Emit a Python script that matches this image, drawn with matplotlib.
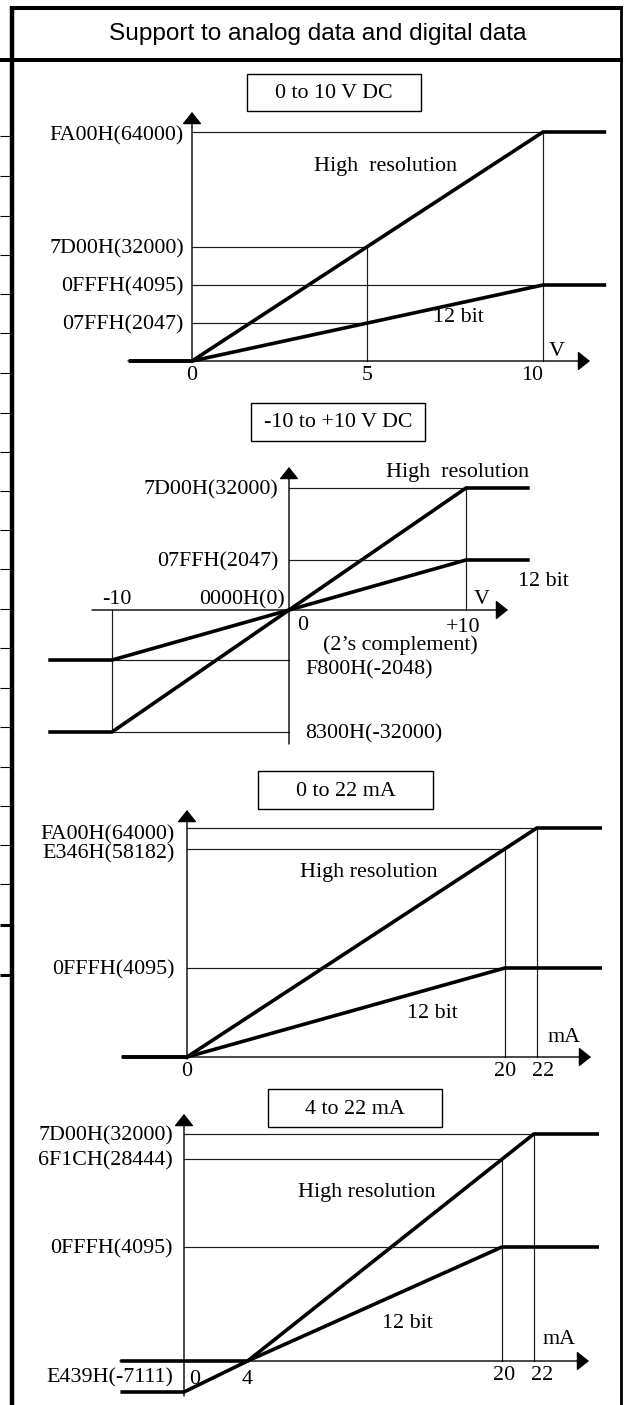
import numpy as np
import matplotlib
matplotlib.use("Agg")
import matplotlib.pyplot as plt
from matplotlib.patches import Rectangle, FancyArrowPatch
from matplotlib.lines import Line2D

# ---------------------------------------------------------------- data
header = "Support to analog data and digital data"

# Panel 1 : 0 to 10 V DC
p1_title = "0 to 10 V DC"
p1_hr_x = [-1.8, 0, 10, 11.8]
p1_hr_y = [0, 0, 64000, 64000]
p1_12_x = [-1.8, 0, 10, 11.8]
p1_12_y = [0, 0, 4095, 4095]
p1_hr_h = [(64000, 0, 10), (32000, 0, 5)]
p1_12_h = [(4095, 0, 10), (2047, 0, 5)]
p1_hr_v = [(10, 0, 64000), (5, 0, 32000)]
p1_hr_lab = [(64000, "FA00H(64000)"), (32000, "7D00H(32000)")]
p1_12_lab = [(4095, "0FFFH(4095)"), (2047, "07FFH(2047)")]
p1_xt = [0, 5, 10]
p1_xtl = ["0", "5", "10"]
p1_unit = "V"

# Panel 2 : -10 to +10 V DC
p2_title = "-10 to +10 V DC"
p2_hr_x = [-13.6, -10, 10, 13.6]
p2_hr_y = [-32000, -32000, 32000, 32000]
p2_12_x = [-13.6, -10, 10, 13.6]
p2_12_y = [-2048, -2048, 2047, 2047]
p2_hr_h = [(32000, 0, 10), (-32000, -10, 0)]
p2_12_h = [(2047, 0, 10), (-2048, -10, 0)]
p2_hr_v = [(10, 0, 32000), (-10, 0, -32000)]
p2_hr_lab = [(32000, "7D00H(32000)")]
p2_12_lab = [(2047, "07FFH(2047)")]
p2_hr_lab_r = [(-32000, "8300H(-32000)")]
p2_12_lab_r = [(-2048, "F800H(-2048)")]
p2_zero_lab = "0000H(0)"
p2_xt = [-10, 0, 10]
p2_xtl = ["-10", "0", "+10"]
p2_note = "(2\u2019s complement)"
p2_unit = "V"

# Panel 3 : 0 to 22 mA
p3_title = "0 to 22 mA"
p3_hr_x = [-4.1, 0, 22, 26.1]
p3_hr_y = [0, 0, 64000, 64000]
p3_12_x = [-4.1, 0, 20, 26.1]
p3_12_y = [0, 0, 4095, 4095]
p3_hr_h = [(64000, 0, 22), (58182, 0, 20)]
p3_12_h = [(4095, 0, 20)]
p3_hr_v = [(22, 0, 64000), (20, 0, 58182)]
p3_hr_lab = [(64000, "FA00H(64000)"), (58182, "E346H(58182)")]
p3_12_lab = [(4095, "0FFFH(4095)")]
p3_xt = [0, 20, 22]
p3_xtl = ["0", "20", "22"]
p3_unit = "mA"

# Panel 4 : 4 to 22 mA
p4_title = "4 to 22 mA"
p4_hr_x = [-4.0, 0, 4, 22, 26.1]
p4_hr_y = [-7111, -7111, 0, 32000, 32000]
p4_12_x = [-4.0, 4, 20, 26.1]
p4_12_y = [0, 0, 4095, 4095]
p4_hr_h = [(32000, 0, 22), (28444, 0, 20)]
p4_12_h = [(4095, 0, 20)]
p4_hr_v = [(22, 0, 32000), (20, 0, 28444)]
p4_hr_lab = [(32000, "7D00H(32000)"), (28444, "6F1CH(28444)"), (-7111, "E439H(-7111)")]
p4_12_lab = [(4095, "0FFFH(4095)")]
p4_xt = [0, 4, 20, 22]
p4_xtl = ["0", "4", "20", "22"]
p4_unit = "mA"

hr_text = ["High  resolution", "High  resolution", "High resolution", "High resolution"]
b12_text = "12 bit"

# ---------------------------------------------------------------- layout
W, H, DPI = 624, 1405, 100
SERIF = ["Liberation Serif", "DejaVu Serif"]
SANS = ["Liberation Sans", "DejaVu Sans"]
FS = 15.8
THICK = 2.6
THIN = 0.85
THIN_C = "#1a1a1a"

fig = plt.figure(figsize=(W / DPI, H / DPI), dpi=DPI)
fig.patch.set_facecolor("white")


def fx(px):
    return px / W


def fy(py):
    return 1 - py / H


def ident(v):
    return v


def lims(va, pa, vb, pb, plo, phi, f=ident, finv=ident):
    ta, tb = f(va), f(vb)
    slope = (tb - ta) / (pb - pa)
    return float(finv(ta + (plo - pa) * slope)), float(finv(ta + (phi - pa) * slope))


def fline(x1, y1, x2, y2, lw, color="k"):
    fig.add_artist(Line2D([fx(x1), fx(x2)], [fy(y1), fy(y2)], transform=fig.transFigure,
                          lw=lw, color=color, solid_capstyle="butt"))


def farrow(x1, y1, x2, y2):
    fig.add_artist(FancyArrowPatch((fx(x1), fy(y1)), (fx(x2), fy(y2)), transform=fig.transFigure,
                                   arrowstyle="-|>,head_length=0.75,head_width=0.6",
                                   mutation_scale=10, lw=1.0, color="k",
                                   shrinkA=0, shrinkB=0))


def ftext(x, y, s, ha="center", va="center", fs=FS, family=SERIF):
    fig.text(fx(x), fy(y), s, ha=ha, va=va, fontsize=fs, family=family)


def fbox(x0, x1, y0, y1, s):
    fig.add_artist(Rectangle((fx(x0), fy(y1)), fx(x1) - fx(x0), fy(y0) - fy(y1),
                             transform=fig.transFigure, fill=False, lw=1.0, ec="k"))
    ftext((x0 + x1) / 2, (y0 + y1) / 2 + 1, s)


# ---------------------------------------------------------------- frame
fline(9.5, 8, 622.5, 8, 2.9)
fline(11.7, 6, 11.7, H, 3.2)
fline(621, 6, 621, H, 2.0)
fline(0, 59.5, 622.5, 59.5, 2.9)
for ty in [136, 176, 216, 255, 294, 333, 373, 413, 452, 491, 530, 569, 609, 648, 688,
           727, 767, 806, 845, 884]:
    fline(0, ty, 10, ty, 0.8)
for ty in [925, 975]:
    fline(0, ty, 10, ty, 2.2)
ftext(318, 34, header, fs=17.6, family=SANS)


# ---------------------------------------------------------------- panels
def panel(lay, title, hr_x, hr_y, b_x, b_y, hr_h, b_h, hr_v, hr_lab, b_lab,
          xt, xtl, unit, hrtxt, f=ident, finv=ident):
    rect = [0, fy(lay["bot"]), 1, (lay["bot"] - lay["top"]) / H]
    ax_hr = fig.add_axes(rect)
    ax_b = fig.add_axes(rect)
    for a in (ax_hr, ax_b):
        a.set_axis_off()
        a.patch.set_visible(False)
    xv, xp = lay["xref"]
    xl = lims(0, lay["x0"], xv, xp, 0, W)
    ax_hr.set_xlim(*xl)
    ax_b.set_xlim(*xl)
    if f is not ident:
        ax_hr.set_yscale("function", functions=(f, finv))
    hv, hp = lay["hr_ref"]
    ax_hr.set_ylim(*lims(0, lay["y0"], hv, hp, lay["bot"], lay["top"], f, finv))
    bv, bp = lay["b_ref"]
    ax_b.set_ylim(*lims(0, lay["y0"], bv, bp, lay["bot"], lay["top"]))

    # axes with arrows
    farrow(lay["x0"], lay["ybot"], lay["x0"], lay["ytip"])
    farrow(lay["xleft"], lay["y0"], lay["xtip"], lay["y0"])

    # thin reference lines
    for v, a, b in hr_h:
        ax_hr.plot([a, b], [v, v], color=THIN_C, lw=THIN, clip_on=False)
    for v, a, b in b_h:
        ax_b.plot([a, b], [v, v], color=THIN_C, lw=THIN, clip_on=False)
    for x, a, b in hr_v:
        ax_hr.plot([x, x], [a, b], color=THIN_C, lw=THIN, clip_on=False)

    # characteristic lines
    ax_hr.plot(hr_x, hr_y, color="k", lw=THICK, clip_on=False, solid_joinstyle="miter",
               solid_capstyle="butt")
    ax_b.plot(b_x, b_y, color="k", lw=THICK, clip_on=False, solid_joinstyle="miter",
              solid_capstyle="butt")

    # y labels
    gap = lay["gap"]
    dys = lay.get("dy", {})
    for v, s in hr_lab:
        ax_hr.annotate(s, xy=(0, v), xytext=(-gap, -dys.get(s, 2)), textcoords="offset pixels",
                       ha="right", va="center", fontsize=FS, family=SERIF)
    for v, s in b_lab:
        ax_b.annotate(s, xy=(0, v), xytext=(-gap, -dys.get(s, 2)), textcoords="offset pixels",
                      ha="right", va="center", fontsize=FS, family=SERIF)
    # x tick labels
    for x, s, dx, dy in zip(xt, xtl, lay["xt_dx"], lay["xt_dy"]):
        ax_hr.annotate(s, xy=(x, 0), xytext=(dx, -dy), textcoords="offset pixels",
                       ha="center", va="center", fontsize=FS, family=SERIF)
    # title box and text notes
    fbox(*lay["box"], title)
    ftext(*lay["hr_txt"], hrtxt, ha=lay.get("hr_ha", "center"))
    ftext(*lay["b_txt"], b12_text)
    ftext(*lay["unit"], unit)
    return ax_hr, ax_b


L1 = dict(top=62, bot=395, x0=192, xref=(10, 543), y0=361, hr_ref=(64000, 132),
          b_ref=(4095, 285), ytip=112, ybot=361, xleft=128, xtip=590, gap=8,
          dy={"FA00H(64000)": 4}, xt_dx=[0, 0, -11], xt_dy=[15, 15, 15],
          box=(247, 421, 74, 111), hr_txt=(385, 167), b_txt=(458, 318), unit=(557, 352))
panel(L1, p1_title, p1_hr_x, p1_hr_y, p1_12_x, p1_12_y, p1_hr_h, p1_12_h, p1_hr_v,
      p1_hr_lab, p1_12_lab, p1_xt, p1_xtl, p1_unit, hr_text[0])

L2 = dict(top=395, bot=760, x0=289, xref=(10, 466), y0=610, hr_ref=(32000, 488),
          b_ref=(2047, 560), ytip=467, ybot=744, xleft=92, xtip=508, gap=11,
          xt_dx=[5, 14, -3], xt_dy=[-10, 15, 17],
          box=(251, 425, 403, 441), hr_txt=(529, 472), hr_ha="right", b_txt=(543, 582),
          unit=(482, 600))
a2h, a2b = panel(L2, p2_title, p2_hr_x, p2_hr_y, p2_12_x, p2_12_y, p2_hr_h, p2_12_h, p2_hr_v,
                 p2_hr_lab, p2_12_lab, p2_xt, p2_xtl, p2_unit, hr_text[1])
for v, s in p2_hr_lab_r:
    a2h.annotate(s, xy=(0, v), xytext=(16, -2), textcoords="offset pixels",
                 ha="left", va="center", fontsize=FS, family=SERIF)
for v, s in p2_12_lab_r:
    a2b.annotate(s, xy=(0, v), xytext=(16, -10), textcoords="offset pixels",
                 ha="left", va="center", fontsize=FS, family=SERIF)
a2h.annotate(p2_zero_lab, xy=(0, 0), xytext=(-4, 10), textcoords="offset pixels",
             ha="right", va="center", fontsize=FS, family=SERIF)
ftext(400, 645, p2_note)

L3 = dict(top=760, bot=1085, x0=187, xref=(20, 505), y0=1057, hr_ref=(64000, 828),
          b_ref=(4095, 968), ytip=810, ybot=1059, xleft=122, xtip=591, gap=12,
          dy={"FA00H(64000)": 7, "E346H(58182)": 5}, xt_dx=[0, 0, 6], xt_dy=[15, 15, 15],
          box=(258, 433, 771, 809), hr_txt=(369, 873), b_txt=(432, 1013), unit=(564, 1037))
panel(L3, p3_title, p3_hr_x, p3_hr_y, p3_12_x, p3_12_y, p3_hr_h, p3_12_h, p3_hr_v,
      p3_hr_lab, p3_12_lab, p3_xt, p3_xtl, p3_unit, hr_text[2])

# panel 4: the drawing compresses the negative part of the high-resolution scale
neg_v, neg_p = -7111, 1392
y0_4, ref_v4, ref_p4 = 1361, 32000, 1134
K4 = ((neg_p - y0_4) / (y0_4 - ref_p4) * ref_v4) / (-neg_v)


def f4(v):
    v = np.asarray(v, dtype=float)
    return np.where(v < 0, v * K4, v)


def f4inv(t):
    t = np.asarray(t, dtype=float)
    return np.where(t < 0, t / K4, t)


L4 = dict(top=1085, bot=H, x0=184, xref=(20, 502), y0=y0_4, hr_ref=(ref_v4, ref_p4),
          b_ref=(4095, 1247), ytip=1114, ybot=1396, xleft=120, xtip=589, gap=11,
          dy={"E439H(-7111)": -14}, xt_dx=[11, 0, 2, 8], xt_dy=[18, 18, 14, 14],
          box=(268, 442, 1089, 1127), hr_txt=(367, 1192), b_txt=(407, 1324), unit=(559, 1340))
panel(L4, p4_title, p4_hr_x, p4_hr_y, p4_12_x, p4_12_y, p4_hr_h, p4_12_h, p4_hr_v,
      p4_hr_lab, p4_12_lab, p4_xt, p4_xtl, p4_unit, hr_text[3], f=f4, finv=f4inv)

fig.savefig("out.png", dpi=DPI)
